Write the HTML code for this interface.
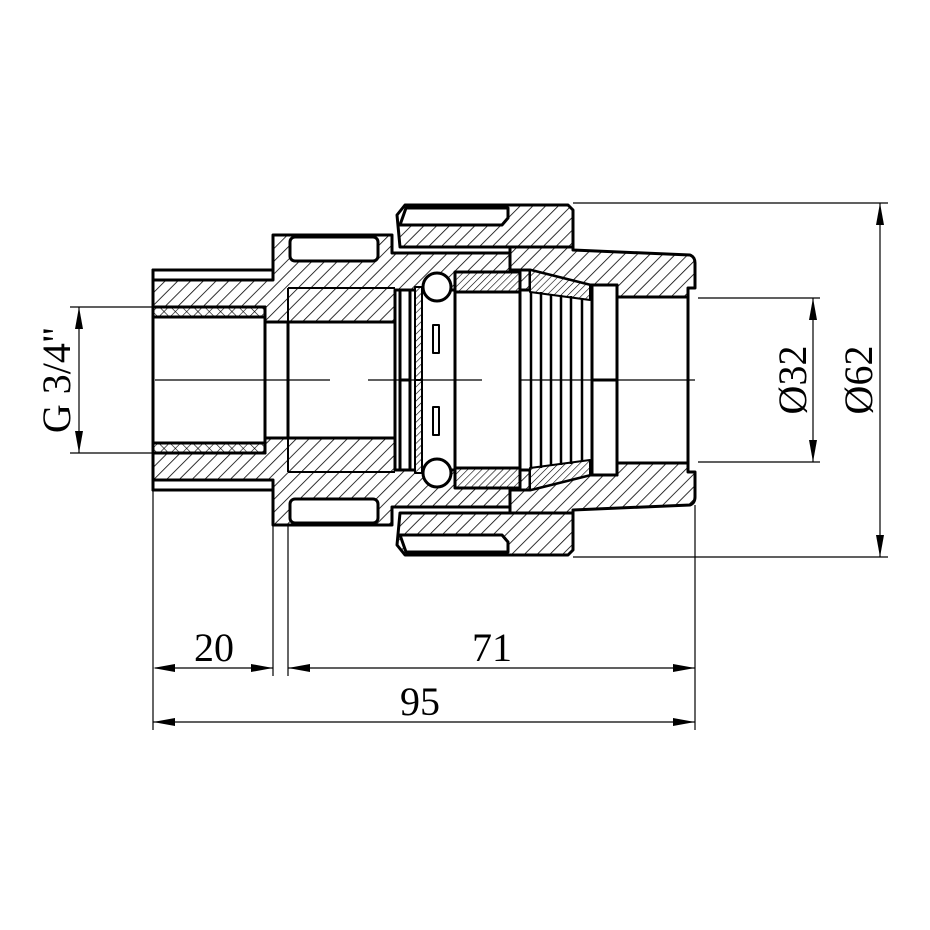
<!DOCTYPE html>
<html><head><meta charset="utf-8"><style>html,body{margin:0;padding:0;background:#fff}svg{display:block}
.H{fill:var(--h)} .F{fill:var(--f)} .X{fill:var(--x)}
</style></head>
<body>
<svg width="930" height="930" viewBox="0 0 930 930" xmlns="http://www.w3.org/2000/svg">
<defs>
<pattern id="h" patternUnits="userSpaceOnUse" width="9" height="9" patternTransform="rotate(45)">
<rect width="9" height="9" fill="#fff"/><line x1="0" y1="0" x2="0" y2="9" stroke="#000" stroke-width="1.6"/></pattern>
<pattern id="h2" patternUnits="userSpaceOnUse" width="9" height="9" patternTransform="rotate(-45)">
<rect width="9" height="9" fill="#fff"/><line x1="0" y1="0" x2="0" y2="9" stroke="#000" stroke-width="1.6"/></pattern>
<pattern id="hf" patternUnits="userSpaceOnUse" width="5" height="5" patternTransform="rotate(45)">
<rect width="5" height="5" fill="#fff"/><line x1="0" y1="0" x2="0" y2="5" stroke="#000" stroke-width="1.2"/></pattern>
<pattern id="hf2" patternUnits="userSpaceOnUse" width="5" height="5" patternTransform="rotate(-45)">
<rect width="5" height="5" fill="#fff"/><line x1="0" y1="0" x2="0" y2="5" stroke="#000" stroke-width="1.2"/></pattern>
<pattern id="x" patternUnits="userSpaceOnUse" width="8" height="8" patternTransform="rotate(45)">
<rect width="8" height="8" fill="#fff"/><line x1="0" y1="0" x2="0" y2="8" stroke="#000" stroke-width="1.2"/><line x1="0" y1="0" x2="8" y2="0" stroke="#000" stroke-width="1.2"/></pattern>
<g id="half" stroke="#000" stroke-width="3" stroke-linejoin="round">
  <path class="H" d="M153,270 H273 V235 H392 V253 H530 V290 H395 V322 H265 V307 H153 Z"/>
  <rect x="153" y="270" width="120" height="10" fill="#fff"/>
  <rect x="290" y="237" width="88" height="24" rx="5" fill="#fff"/>
  <rect class="X" x="153" y="307" width="112" height="10"/>
  <line x1="288" y1="322" x2="288" y2="380"/>
  <line x1="395" y1="290" x2="395" y2="380"/>
  <line x1="265" y1="317" x2="265" y2="380"/>
  <line x1="288" y1="288" x2="395" y2="288" stroke-width="2"/>
  <line x1="288" y1="288" x2="288" y2="322" stroke-width="2"/>
  <path class="H" d="M397,215 L405,205 H568 L573,210 V250 H510 V247 H400 Z"/>
  <path d="M400,225 L406,208 H508 V218 L502,225 Z" fill="#fff"/>
  <path class="H" d="M510,247 H573 V250 L690,255 Q695,257 695,263 V288 H688 V297 H617 V285 H590 L530,270 H510 Z"/>
  <path class="F" d="M530,270 L590,285 V300 L530,292 Z" stroke-width="2"/>
  <rect class="F" x="455" y="272" width="65" height="20"/>
  <rect class="F" x="415" y="287" width="7" height="93" stroke-width="2"/>
  <rect x="400" y="290" width="10" height="90" fill="#fff"/>
  <circle cx="437" cy="287" r="14" fill="#fff"/>
  <rect x="433" y="325" width="6" height="28" fill="#fff" stroke-width="2"/>
  <rect x="592" y="285" width="25" height="95" fill="#fff"/>
  <line x1="617" y1="297" x2="617" y2="380"/>
  <line x1="688" y1="297" x2="688" y2="380"/>
  <line x1="455" y1="292" x2="455" y2="380"/>
  <line x1="520" y1="290" x2="520" y2="380"/>
  <g stroke-width="2.5">
  <line x1="531" y1="292" x2="531" y2="380"/><line x1="541" y1="292" x2="541" y2="380"/>
  <line x1="551" y1="294" x2="551" y2="380"/><line x1="561" y1="295" x2="561" y2="380"/>
  <line x1="571" y1="296" x2="571" y2="380"/><line x1="582" y1="298" x2="582" y2="380"/>
  </g>
</g>
</defs>
<rect width="930" height="930" fill="#fff"/>
<use href="#half" style="--h:url(#h);--f:url(#hf);--x:url(#x)"/>
<use href="#half" transform="translate(0,760) scale(1,-1)" style="--h:url(#h2);--f:url(#hf2);--x:url(#x)"/>
<line x1="153" y1="270" x2="153" y2="490" stroke="#000" stroke-width="3"/>
<g stroke="#000" stroke-width="1.2">
<line x1="155" y1="380" x2="330" y2="380"/><line x1="368" y1="380" x2="482" y2="380"/><line x1="520" y1="380" x2="695" y2="380"/>
</g>
<g stroke="#000" stroke-width="1.2" fill="none">
<line x1="153" y1="490" x2="153" y2="730"/>
<line x1="273" y1="525" x2="273" y2="676"/>
<line x1="288" y1="525" x2="288" y2="676"/>
<line x1="695" y1="505" x2="695" y2="730"/>
<line x1="155" y1="668" x2="273" y2="668"/>
<line x1="288" y1="668" x2="695" y2="668"/>
<line x1="153" y1="722" x2="695" y2="722"/>
<line x1="573" y1="203" x2="888" y2="203"/>
<line x1="573" y1="557" x2="888" y2="557"/>
<line x1="880" y1="203" x2="880" y2="557"/>
<line x1="698" y1="298" x2="820" y2="298"/>
<line x1="698" y1="462" x2="820" y2="462"/>
<line x1="813" y1="298" x2="813" y2="462"/>
<line x1="70" y1="307" x2="153" y2="307"/>
<line x1="70" y1="453" x2="153" y2="453"/>
<line x1="79" y1="307" x2="79" y2="453"/>
</g>
<g fill="#000">
<path d="M153,668 l22,-4 v8 z"/><path d="M273,668 l-22,-4 v8 z"/>
<path d="M288,668 l22,-4 v8 z"/><path d="M695,668 l-22,-4 v8 z"/>
<path d="M153,722 l22,-4 v8 z"/><path d="M695,722 l-22,-4 v8 z"/>
<path d="M880,203 l-4,22 h8 z"/><path d="M880,557 l-4,-22 h8 z"/>
<path d="M813,298 l-4,22 h8 z"/><path d="M813,462 l-4,-22 h8 z"/>
<path d="M79,307 l-4,22 h8 z"/><path d="M79,453 l-4,-22 h8 z"/>
</g>
<g font-family="Liberation Serif, serif" font-size="40" fill="#000" text-anchor="middle">
<text x="214" y="661">20</text>
<text x="492" y="661">71</text>
<text x="420" y="715">95</text>
<text transform="translate(70,380) rotate(-90)">G 3/4"</text>
<text transform="translate(806,380) rotate(-90)">Ø32</text>
<text transform="translate(872,380) rotate(-90)">Ø62</text>
</g>
</svg>
</body></html>
